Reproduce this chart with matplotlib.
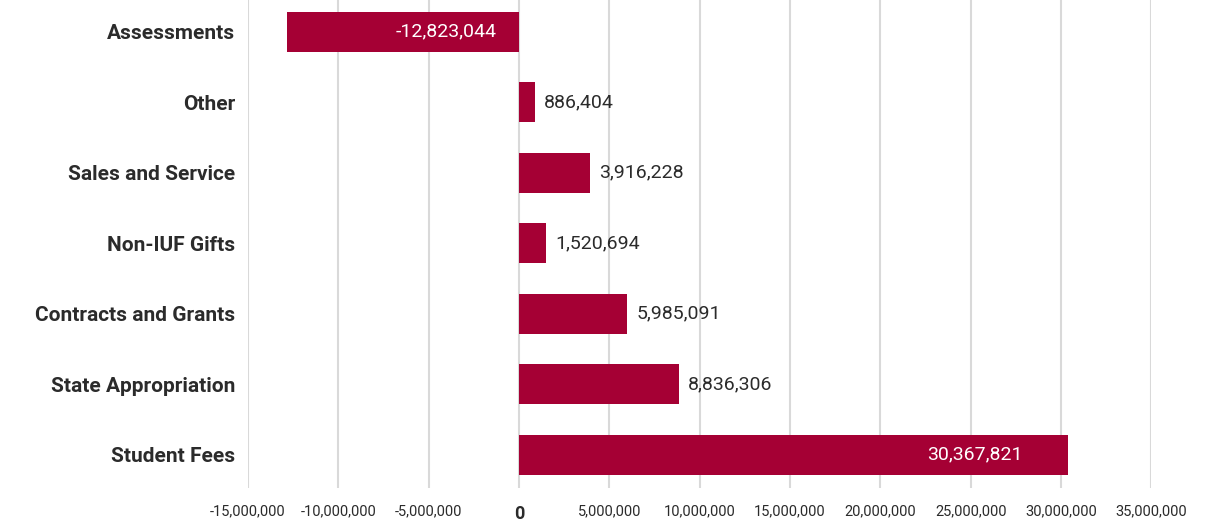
import matplotlib.pyplot as plt
from matplotlib.ticker import FuncFormatter

plt.rcParams['font.family'] = ['Roboto', 'DejaVu Sans']

categories = ['Student Fees', 'State Appropriation', 'Contracts and Grants',
              'Non-IUF Gifts', 'Sales and Service', 'Other', 'Assessments']
values = [30367821, 8836306, 5985091, 1520694, 3916228, 886404, -12823044]
inside = ['Student Fees', 'Assessments']

bar_color = '#A50034'
text_color = '#2b2b2b'

fig = plt.figure(figsize=(12.21, 5.23), dpi=100)
ax = fig.add_axes([0.203, 0.067, 0.740, 0.933])

ypos = list(range(len(categories)))
bars = ax.barh(ypos, values, height=0.57, color=bar_color, zorder=3)

for y, cat, v in zip(ypos, categories, values):
    label = f'{v:,}'
    if cat == 'Assessments':
        ax.annotate(label, (0, y), xytext=(-22, 0), textcoords='offset pixels',
                    ha='right', va='center', color='white', fontsize=14, zorder=4)
    elif cat in inside:
        ax.annotate(label, (v, y), xytext=(-45, 0), textcoords='offset pixels',
                    ha='right', va='center', color='white', fontsize=14, zorder=4)
    else:
        ax.annotate(label, (v, y), xytext=(9, 0), textcoords='offset pixels',
                    ha='left', va='center', color=text_color, fontsize=14, zorder=4)

ax.set_xlim(-15000000, 35000000)
ax.set_ylim(-0.47, 6.45)
ax.set_xticks(range(-15000000, 35000001, 5000000))
ax.xaxis.set_major_formatter(FuncFormatter(lambda x, p: f'{int(x):,}'))
ax.set_yticks(ypos)
ax.set_yticklabels(categories, fontsize=15, color=text_color, fontweight='semibold')

for lbl in ax.get_xticklabels():
    lbl.set_fontsize(10.5)
    lbl.set_color(text_color)
    if lbl.get_text() == '0':
        lbl.set_fontweight('bold')
        lbl.set_fontsize(13)

ax.grid(axis='x', color='#d9d9d9', linewidth=1.5, zorder=0)
ax.tick_params(axis='both', length=0)
ax.tick_params(axis='x', pad=12)
ax.tick_params(axis='y', pad=9)
for s in ax.spines.values():
    s.set_visible(False)

fig.savefig('out.png', dpi=100)
